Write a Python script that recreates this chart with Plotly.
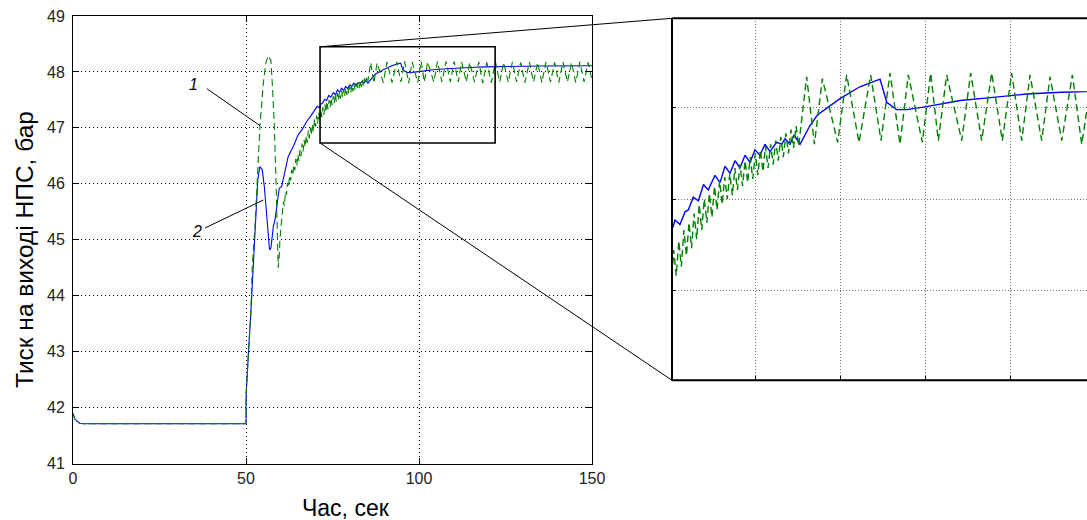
import plotly.graph_objects as go

# --- Pressure at pump-station outlet, two control variants ---------------
# Curve 2 (solid blue)
blue_t = [0, 0.5, 1.25, 2, 3, 50, 50.05, 50.4, 50.96, 51.35, 52.1, 52.3, 52.8,
          53.4, 54.0, 54.7, 55.3, 56.0, 56.8, 57.2, 57.9, 58.4, 59.2, 59.6,
          60.3, 61.3, 62.2, 63.7, 65.1, 66.1, 67.5, 68.8, 70.35, 70.55, 71.14,
          71.73, 72.12, 72.7, 73.3, 73.9, 74.47, 75.26, 75.85, 76.44, 77.02,
          77.61, 78.2, 78.79, 79.38, 79.96, 80.55, 81.14, 81.73, 82.5, 83.1,
          83.5, 84.08, 84.55, 85.26, 86.4, 87.3, 89.96, 92.3, 94.67, 95.46,
          96.6, 97.8, 99.96, 102.9, 104.1, 108.0, 111.9, 116.0, 119.0, 125.0,
          135.0, 150.0]
blue_p = [41.90, 41.80, 41.75, 41.72, 41.71, 41.71, 42.25, 42.70, 43.25, 43.63,
          44.59, 44.64, 45.24, 46.07, 46.31, 46.25, 45.95, 45.42, 44.82, 44.85,
          45.24, 45.36, 45.77, 45.92, 45.95, 46.25, 46.49, 46.67, 46.88, 46.96,
          47.11, 47.22, 47.35, 47.385, 47.36, 47.43, 47.44, 47.51, 47.49, 47.58,
          47.55, 47.63, 47.59, 47.68, 47.64, 47.71, 47.67, 47.74, 47.70, 47.77,
          47.74, 47.80, 47.76, 47.81, 47.80, 47.83, 47.80, 47.85, 47.80, 47.90,
          47.96, 48.05, 48.115, 48.157, 48.03, 47.99, 47.99, 48.005, 48.03,
          48.04, 48.057, 48.075, 48.085, 48.09, 48.10, 48.105, 48.11]

# Curve 1 (dashed green)
green_t = [0, 0.5, 1.25, 2, 3, 50, 50.05, 50.4, 50.96, 51.35, 51.8, 52.6, 53.4,
           54.0, 55.0, 55.7, 56.4, 57.2, 57.7, 58.2, 58.7, 59.0, 59.3, 59.6,
           59.8, 60.3,
           60.8, 61.1, 61.4, 61.7, 62.0, 62.3, 62.6, 62.9, 63.2, 63.5, 63.8,
           64.1, 64.4, 64.7, 65.0, 65.3, 65.6, 65.9, 66.2, 66.5, 66.8, 67.1,
           67.4, 67.7, 68.0, 68.3, 68.6, 68.9, 69.2, 69.5, 69.8, 70.1, 70.4,
           70.7, 71.0, 71.3, 71.6, 71.9, 72.2, 72.5, 72.8, 73.1, 73.4, 73.7,
           74.0, 74.3, 74.6, 74.9, 75.2, 75.5, 75.8, 76.1, 76.4, 76.7, 77.0,
           77.3, 77.6, 77.9, 78.2, 78.5, 78.8, 79.1, 79.4, 79.7, 80.0, 80.3,
           80.6, 80.9, 81.2, 81.5, 81.8, 82.1, 82.4, 82.7, 83.0, 83.3, 83.6,
           83.9, 84.2, 84.5, 84.8, 85.1,
           86.04, 86.95, 87.89, 89.69, 90.75, 92.2, 93.57, 94.79, 95.85, 97.02,
           98.0, 99.65, 100.63, 101.53, 102.51, 104.28, 105.34, 106.63, 107.81,
           109.06, 110.16, 111.34, 112.32, 113.69, 114.67, 116.05, 117.3, 118.4,
           119.6, 120.9, 122.1, 123.3, 124.5, 125.8, 127.0, 128.2, 129.4, 130.6,
           131.9, 133.1, 134.3, 135.5, 136.7, 138.0, 139.2, 140.4, 141.6, 142.9,
           144.1, 145.3, 146.5, 147.7, 148.9, 150.0]
green_p = [41.90, 41.80, 41.75, 41.72, 41.71, 41.71, 42.25, 42.70, 43.25, 43.63,
           44.52, 45.24, 46.19, 47.00, 47.80, 48.15, 48.29, 48.21, 47.68, 47.00,
           46.01, 45.00, 44.50, 44.70, 45.00, 45.35,
           45.68, 45.60, 45.86, 45.80, 46.02, 45.94, 46.15, 46.06, 46.25, 46.15,
           46.34, 46.24, 46.45, 46.33, 46.52, 46.41, 46.61, 46.49, 46.72, 46.58,
           46.78, 46.66, 46.86, 46.73, 46.95, 46.81, 47.00, 46.87, 47.07, 46.94,
           47.15, 47.02, 47.22, 47.08, 47.27, 47.13, 47.33, 47.19, 47.37, 47.23,
           47.42, 47.28, 47.47, 47.33, 47.50, 47.37, 47.53, 47.40, 47.57, 47.44,
           47.60, 47.47, 47.62, 47.50, 47.64, 47.52, 47.67, 47.55, 47.69, 47.57,
           47.71, 47.59, 47.73, 47.61, 47.75, 47.63, 47.77, 47.65, 47.79, 47.67,
           47.80, 47.69, 47.82, 47.71, 47.84, 47.73, 47.86, 47.75, 47.88, 47.78,
           47.90, 47.79,
           48.17, 47.80, 48.16, 47.81, 48.18, 47.81, 48.18, 47.82, 48.19, 47.80,
           48.18, 47.81, 48.19, 47.82, 48.18, 47.82, 48.19, 47.82, 48.19, 47.82,
           48.19, 47.82, 48.18, 47.82, 48.17, 47.82, 48.18, 47.80,
           48.17, 47.81, 48.18, 47.82, 48.17, 47.81, 48.18, 47.82, 48.17, 47.81,
           48.18, 47.82, 48.17, 47.81, 48.18, 47.82, 48.17, 47.81, 48.18, 47.82,
           48.17, 47.81, 48.18, 47.82, 48.17, 47.85]

x_ticks = [0, 50, 100, 150]
y_ticks = [41, 42, 43, 44, 45, 46, 47, 48, 49]
x_title = "Час, сек"
y_title = "Тиск на виході НПС, бар"

# zoomed window (main axes data units) and inset axes settings
zoom_t = [71.4, 122.0]
zoom_p = [46.73, 48.45]
inset_xrange = [70.2, 119.02]
inset_yrange = [46.507, 48.49]
inset_xgrid = [80, 90, 100, 110]
inset_ygrid = [47, 47.5, 48]

W, H = 1087, 520
main_dx = [73 / W, 592 / W]
main_dy = [1 - 463.5 / H, 1 - 16 / H]
ins_dx = [672 / W, 1.0]
ins_dy = [1 - 380.3 / H, 1 - 18.3 / H]

BLUE = "rgb(0,0,255)"
GREEN = "rgb(0,128,0)"
FONT = "Liberation Sans, Arial, sans-serif"

fig = go.Figure()
for xa, ya, w in (("x", "y", 1.1), ("x2", "y2", 1.4)):
    fig.add_trace(go.Scatter(x=blue_t, y=blue_p, mode="lines", xaxis=xa, yaxis=ya,
                             line=dict(color=BLUE, width=w), showlegend=False,
                             hoverinfo="skip"))
    fig.add_trace(go.Scatter(x=green_t, y=green_p, mode="lines", xaxis=xa, yaxis=ya,
                             line=dict(color=GREEN, width=w, dash="7px,4px"),
                             showlegend=False, hoverinfo="skip"))

axis_common = dict(showline=True, linecolor="black", linewidth=1, mirror="ticks",
                   ticks="inside", ticklen=6, tickcolor="black", automargin=False,
                   showgrid=True, gridcolor="black", gridwidth=1, griddash="1px,3px",
                   zeroline=False, tickfont=dict(family=FONT, size=16, color="#222"))

inset_common = dict(showticklabels=False, showline=False, ticks="inside", ticklen=4,
                    tickcolor="black", showgrid=True, gridcolor="#777", gridwidth=1,
                    griddash="1px,2px", zeroline=False, automargin=False)

fig.update_layout(
    width=W, height=H, margin=dict(l=0, r=0, t=0, b=0, pad=0, autoexpand=False),
    paper_bgcolor="white", plot_bgcolor="white",
    xaxis=dict(domain=main_dx, range=[0, 150], tickvals=x_ticks, anchor="y",
               ticklabelstandoff=0, **axis_common),
    yaxis=dict(domain=main_dy, range=[41, 49], tickvals=y_ticks, anchor="x",
               ticklabelstandoff=4, **axis_common),
    xaxis2=dict(domain=ins_dx, range=inset_xrange, tickvals=inset_xgrid, anchor="y2",
                **inset_common),
    yaxis2=dict(domain=ins_dy, range=inset_yrange, tickvals=inset_ygrid, anchor="x2",
                **inset_common),
)


def main_to_paper(t, p):
    px = main_dx[0] + (t - 0) / 150 * (main_dx[1] - main_dx[0])
    py = main_dy[0] + (p - 41) / 8 * (main_dy[1] - main_dy[0])
    return px, py


shapes = []
# zoom rectangle on the main axes
shapes.append(dict(type="rect", xref="x", yref="y", x0=zoom_t[0], x1=zoom_t[1],
                   y0=zoom_p[0], y1=zoom_p[1], line=dict(color="black", width=1.6)))
# connector lines to the inset
tl = main_to_paper(zoom_t[0], zoom_p[1])
bl = main_to_paper(zoom_t[0], zoom_p[0])
shapes.append(dict(type="line", xref="paper", yref="paper", x0=tl[0], y0=tl[1],
                   x1=ins_dx[0], y1=ins_dy[1], line=dict(color="black", width=1)))
shapes.append(dict(type="line", xref="paper", yref="paper", x0=bl[0], y0=bl[1],
                   x1=ins_dx[0], y1=ins_dy[0], line=dict(color="black", width=1)))
# inset frame (left, top, bottom; right side runs off the page)
for (x0, y0, x1, y1) in ((ins_dx[0], ins_dy[0], ins_dx[0], ins_dy[1]),
                         (ins_dx[0], ins_dy[1], 1.0, ins_dy[1]),
                         (ins_dx[0], ins_dy[0], 1.0, ins_dy[0])):
    shapes.append(dict(type="line", xref="paper", yref="paper", x0=x0, y0=y0,
                       x1=x1, y1=y1, line=dict(color="black", width=2)))
# curve labels leaders
shapes.append(dict(type="line", xref="x", yref="y", x0=38.7, y0=47.70, x1=54.05,
                   y1=47.04, line=dict(color="black", width=1)))
shapes.append(dict(type="line", xref="x", yref="y", x0=38.15, y0=45.21, x1=55.0,
                   y1=45.71, line=dict(color="black", width=1)))
fig.update_layout(shapes=shapes)

annotations = [
    dict(text="<i>1</i>", x=34.7, y=47.77, xref="x", yref="y", showarrow=False,
         font=dict(family=FONT, size=16, color="black")),
    dict(text="<i>2</i>", x=35.8, y=45.14, xref="x", yref="y", showarrow=False,
         font=dict(family=FONT, size=16, color="black")),
    dict(text=x_title, x=346 / W, y=1 - 508 / H, xref="paper", yref="paper",
         xanchor="center", yanchor="middle", showarrow=False,
         font=dict(family=FONT, size=23, color="black")),
    dict(text=y_title, x=24 / W, y=1 - 250 / H, xref="paper", yref="paper",
         xanchor="center", yanchor="middle", showarrow=False, textangle=-90,
         font=dict(family=FONT, size=24.5, color="black")),
]
fig.update_layout(annotations=annotations)

fig.write_html("out.html")
